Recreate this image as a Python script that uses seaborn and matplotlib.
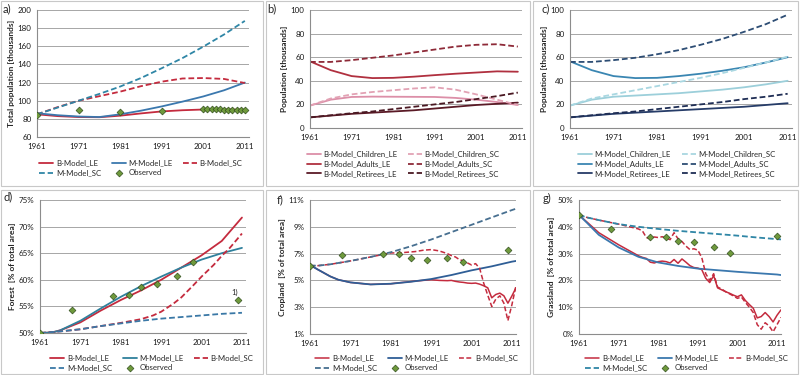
import seaborn as sns
import pandas as pd
from matplotlib import pyplot as plt
from matplotlib.patches import Rectangle
import matplotlib.ticker as mtick

# ---- a) total population [thousands]
years_a = [1961, 1966, 1971, 1976, 1981, 1986, 1991, 1996, 2001, 2006, 2011]
a_b_le = [85, 83, 82, 81.8, 83.5, 86, 88.2, 89.5, 90.3, 90.3, 90]
a_m_le = [86.2, 84, 82.6, 82, 85, 89, 93.7, 99, 104.7, 111.5, 120]
a_b_sc = [85, 93, 100, 105, 110, 116, 121, 124.5, 125, 124, 119.5]
a_m_sc = [85, 92.5, 100, 107.5, 115.6, 125, 135.8, 147, 159.6, 173, 188]
obs_years_a = [1961, 1971, 1981, 1991, 2001, 2002, 2003, 2004, 2005, 2006,
               2007, 2008, 2009, 2010, 2011]
obs_a = [84.5, 89.5, 87.3, 88.8, 90.6, 90.6, 90.5, 90.5, 90.4, 90.3,
         90.1, 90, 89.8, 89.6, 89.3]

# ---- b) B-Model age groups, c) M-Model age groups
years_bc = [1961, 1966, 1971, 1976, 1981, 1986, 1991, 1996, 2001, 2006, 2011]
b_ch_le = [19, 24, 26.3, 26.6, 26.5, 26.4, 26.3, 25.5, 24, 22, 19.5]
b_ch_sc = [19, 25, 28.5, 30.5, 32, 33.5, 34.5, 32.5, 28.5, 24, 19.5]
b_ad_le = [56.5, 49, 44, 42.3, 42.5, 43.5, 44.8, 46, 47, 48, 47.7]
b_ad_sc = [56, 56, 57.5, 59.5, 61.5, 64, 66.5, 69, 70.5, 71, 69]
b_re_le = [9, 10.5, 12, 13, 14, 15, 16.5, 18, 19.5, 20.5, 21.5]
b_re_sc = [9, 10.8, 12.5, 14, 16, 18, 20, 22, 24.5, 27, 30]

c_ch_le = [19, 24, 26.5, 27.5, 28.5, 29.5, 31, 32.5, 34.5, 37, 40]
c_ch_sc = [19, 25, 28.5, 32, 35.5, 39, 42.5, 46.5, 51, 55.5, 60.5]
c_ad_le = [56.5, 49, 44, 42.3, 42.5, 44, 46, 48.5, 51.5, 55.5, 60]
c_ad_sc = [56, 56, 57.5, 59.5, 62.5, 66, 70.5, 75.5, 81.5, 88, 96]
c_re_le = [9, 10.5, 12, 13, 14, 15, 16, 17, 18, 19.5, 21]
c_re_sc = [9, 10.8, 12.5, 14, 16, 18, 20, 22, 24.5, 26.5, 29]

# ---- d) forest [% of total area]
years_d = [1961, 1964, 1966, 1971, 1976, 1981, 1986, 1991, 1996, 2001, 2006, 2011]
d_b_le = [50, 50.1, 50.5, 52.0, 54.2, 56.2, 58.0, 60.0, 62.3, 64.6, 67.3, 71.7]
d_m_le = [50, 50.1, 50.5, 52.3, 54.6, 56.8, 58.8, 60.6, 62.3, 63.8, 65.0, 66.0]
years_d_bsc = [1961, 1966, 1971, 1976, 1981, 1986, 1989, 1991, 1994, 1996,
               1999, 2001, 2004, 2006, 2008, 2011]
d_b_sc = [50, 50.3, 50.7, 51.3, 51.9, 52.6, 53.3, 54.0, 55.5, 56.7,
          59.0, 60.6, 62.8, 64.5, 66.0, 68.7]
years_d_msc = [1961, 1966, 1971, 1976, 1981, 1986, 1991, 1996, 2001, 2006, 2011]
d_m_sc = [50, 50.3, 50.7, 51.3, 51.8, 52.3, 52.7, 53.0, 53.3, 53.6, 53.8]
obs_years_d = [1961, 1969, 1979, 1983, 1986, 1990, 1995, 1999, 2010]
obs_d = [50, 54.3, 56.9, 57.2, 58.7, 59.3, 60.8, 63.4, 56.2]

# ---- f) cropland [% of total area]
years_f_m = [1961, 1963, 1966, 1968, 1971, 1976, 1981, 1986, 1991, 1996, 2001,
             2006, 2011, 2012]
f_m_le = [6.15, 5.8, 5.3, 5.05, 4.85, 4.7, 4.75, 4.9, 5.1, 5.4, 5.75, 6.05, 6.4, 6.45]
f_m_sc = [6.1, 6.1, 6.2, 6.3, 6.45, 6.75, 7.1, 7.55, 8.05, 8.6, 9.15, 9.7, 10.25, 10.35]
years_f_b = [1961, 1963, 1966, 1968, 1971, 1976, 1981, 1983, 1985, 1987, 1989,
             1991, 1993, 1995, 1996, 1997, 1998, 1999, 2000, 2001, 2002, 2003,
             2004, 2005, 2006, 2007, 2008, 2009, 2010, 2011, 2012]
f_b_le = [6.15, 5.8, 5.3, 5.05, 4.85, 4.7, 4.75, 4.82, 4.88, 4.95, 5.0,
          5.05, 5.0, 4.98, 5.0, 4.93, 4.88, 4.85, 4.8, 4.78, 4.8, 4.72,
          4.6, 4.45, 3.7, 3.95, 4.05, 3.85, 3.3, 3.85, 4.45]
f_b_sc = [6.1, 6.1, 6.2, 6.3, 6.45, 6.75, 7.05, 7.05, 7.1, 7.15, 7.25,
          7.3, 7.2, 7.0, 6.85, 6.75, 6.55, 6.45, 6.3, 6.15, 6.25, 5.9,
          4.8, 3.9, 3.05, 3.6, 3.85, 3.3, 2.0, 3.2, 4.6]
obs_years_f = [1961, 1969, 1979, 1983, 1986, 1990, 1995, 1999, 2010]
obs_f = [6.1, 6.9, 6.95, 6.95, 6.7, 6.5, 6.7, 6.4, 7.3]

# ---- g) grassland [% of total area]
years_g_m = [1961, 1963, 1966, 1971, 1976, 1981, 1986, 1991, 1996, 2001, 2006, 2011, 2012]
g_m_le = [44.4, 41.5, 37.0, 32.3, 28.8, 26.7, 25.4, 24.4, 23.8, 23.2, 22.7, 22.2, 22.0]
g_m_sc = [44.4, 43.5, 42.5, 41.0, 40.0, 39.2, 38.5, 37.9, 37.3, 36.7, 36.0, 35.4, 35.3]
years_g_b = [1961, 1963, 1966, 1971] + list(range(1976, 2013))
g_b_le = [44.4, 41.8, 37.8, 33.3, 29.2, 28.6, 28.2, 26.8, 26.5, 27.0, 27.2, 27.0,
          26.5, 27.8, 26.4, 28.0, 26.8, 25.5, 24.8, 24.6, 24.0, 20.8, 19.2, 21.8,
          17.2, 16.5, 15.8, 15.2, 14.5, 13.9, 14.6, 12.5, 11.0, 9.6, 6.0, 6.5,
          8.0, 6.5, 4.5, 7.0, 9.0]
g_b_sc = [44.4, 43.5, 42.5, 41.0, 39.2, 38.5, 36.0, 35.5, 36.2, 36.0, 36.3, 35.8,
          35.2, 37.8, 35.5, 34.5, 32.8, 31.5, 31.8, 31.3, 28.5, 22.5, 20.0, 22.5,
          17.5, 16.8, 15.8, 15.0, 14.2, 13.3, 13.8, 11.8, 10.0, 8.0, 3.5, 1.8,
          4.2, 3.0, 0.8, 3.5, 6.2]
obs_years_g = [1961, 1969, 1979, 1983, 1986, 1990, 1995, 1999, 2011]
obs_g = [44.4, 39.0, 36.3, 36.1, 34.7, 34.3, 32.6, 30.3, 36.6]

RED = "#C42B3E"
BLUE = "#3B78AE"
TEAL = "#2F86A6"
GREEN = "#6F9A3C"
DASH = (0, (3.2, 1.6))
GRID = "#A6A6A6"
AXIS = "#8C8C8C"


def line(ax, x, y, color, label, dashed=False, lw=1.3):
    sns.lineplot(x=x, y=y, color=color, label=label, ax=ax, lw=lw,
                 linestyle=DASH if dashed else "-")


def observed(ax, x, y):
    sns.scatterplot(x=x, y=y, marker="D", s=12, color=GREEN, edgecolor="#34501F",
                    linewidth=0.5, label="Observed", ax=ax, zorder=5)


def style_axes(ax, ylim, yticks, ylabel, pct=False):
    ax.set_xlim(1961, 2012)
    ax.set_xticks(range(1961, 2012, 10))
    ax.set_xticks(range(1966, 2012, 10), minor=True)
    ax.set_ylim(ylim)
    ax.set_yticks(yticks)
    if pct:
        ax.yaxis.set_major_formatter(mtick.PercentFormatter(decimals=0))
    ax.grid(axis="y", color=GRID, lw=0.7)
    ax.grid(axis="x", visible=False)
    ax.set_axisbelow(True)
    for s in ["top", "right"]:
        ax.spines[s].set_visible(False)
    for s in ["left", "bottom"]:
        ax.spines[s].set_color(AXIS)
        ax.spines[s].set_linewidth(0.8)
    ax.tick_params(which="both", direction="out", length=2.5, width=0.6,
                   color=AXIS, labelsize=5.8, pad=1.5, labelcolor="#1A1A1A")
    ax.set_xlabel("")
    ax.set_ylabel(ylabel, fontsize=6, fontweight="bold", labelpad=2)


def legend(ax, order, ncol, cx, top):
    handles, labels = ax.get_legend_handles_labels()
    lookup = dict(zip(labels, handles))
    ax.legend([lookup[k] for k in order], order, ncol=ncol, loc="upper center",
              bbox_to_anchor=(cx, top), bbox_transform=ax.figure.transFigure,
              frameon=False, fontsize=5.6, handlelength=1.8, handletextpad=0.3,
              columnspacing=1.4, labelspacing=0.35, borderpad=0.1)


def main():
    sns.set_style("white")
    plt.rcParams["font.family"] = ["Lato", "DejaVu Sans"]
    fig = plt.figure(figsize=(8, 3.75), dpi=100)

    # panel frames
    for x0, y0, x1, y1 in [(1, 1, 263, 186), (266, 1, 530, 186), (533, 1, 798, 186),
                           (1, 190, 263, 374), (266, 190, 530, 374), (533, 190, 798, 374)]:
        fig.add_artist(Rectangle((x0 / 800, 1 - y1 / 375), (x1 - x0) / 800, (y1 - y0) / 375,
                                 transform=fig.transFigure, fill=False,
                                 ec="#C8C8C8", lw=0.8))

    five = ["B-Model_LE", "M-Model_SC", "M-Model_LE", "Observed", "B-Model_SC"]

    # a)
    ax = fig.add_axes([37 / 800, 1 - 137 / 375, 212 / 800, 127 / 375])
    line(ax, years_a, a_b_le, RED, "B-Model_LE")
    line(ax, years_a, a_m_le, BLUE, "M-Model_LE")
    line(ax, years_a, a_b_sc, RED, "B-Model_SC", dashed=True)
    line(ax, years_a, a_m_sc, TEAL, "M-Model_SC", dashed=True)
    observed(ax, obs_years_a, obs_a)
    style_axes(ax, (60, 200), range(60, 201, 20), "Total population [thousands]")
    legend(ax, five, 3, 141 / 800, 1 - 155 / 375)

    # b)
    ax = fig.add_axes([310 / 800, 1 - 128 / 375, 212 / 800, 118 / 375])
    line(ax, years_bc, b_ch_le, "#DC8FA8", "B-Model_Children_LE")
    line(ax, years_bc, b_ad_le, "#B0303F", "B-Model_Adults_LE")
    line(ax, years_bc, b_re_le, "#5A1A26", "B-Model_Retirees_LE")
    line(ax, years_bc, b_ch_sc, "#E2A2B4", "B-Model_Children_SC", dashed=True)
    line(ax, years_bc, b_ad_sc, "#8E2A38", "B-Model_Adults_SC", dashed=True)
    line(ax, years_bc, b_re_sc, "#4A1822", "B-Model_Retirees_SC", dashed=True)
    style_axes(ax, (0, 100), range(0, 101, 20), "Population [thousands]")
    legend(ax, ["B-Model_Children_LE", "B-Model_Adults_LE", "B-Model_Retirees_LE",
                "B-Model_Children_SC", "B-Model_Adults_SC", "B-Model_Retirees_SC"],
           2, 403 / 800, 1 - 146 / 375)

    # c)
    ax = fig.add_axes([570 / 800, 1 - 128 / 375, 222 / 800, 118 / 375])
    line(ax, years_bc, c_ch_le, "#9CCFDA", "M-Model_Children_LE")
    line(ax, years_bc, c_ad_le, "#3A86B2", "M-Model_Adults_LE")
    line(ax, years_bc, c_re_le, "#263C68", "M-Model_Retirees_LE")
    line(ax, years_bc, c_ch_sc, "#A9D7E1", "M-Model_Children_SC", dashed=True)
    line(ax, years_bc, c_ad_sc, "#2D4D74", "M-Model_Adults_SC", dashed=True)
    line(ax, years_bc, c_re_sc, "#1F2E55", "M-Model_Retirees_SC", dashed=True)
    style_axes(ax, (0, 100), range(0, 101, 20), "Population [thousands]")
    legend(ax, ["M-Model_Children_LE", "M-Model_Adults_LE", "M-Model_Retirees_LE",
                "M-Model_Children_SC", "M-Model_Adults_SC", "M-Model_Retirees_SC"],
           2, 677 / 800, 1 - 146 / 375)

    # d)
    ax = fig.add_axes([40 / 800, 1 - 333 / 375, 206 / 800, 133 / 375])
    line(ax, years_d, d_b_le, RED, "B-Model_LE")
    line(ax, years_d, d_m_le, "#2F809C", "M-Model_LE")
    line(ax, years_d_bsc, d_b_sc, RED, "B-Model_SC", dashed=True)
    line(ax, years_d_msc, d_m_sc, "#3A78A6", "M-Model_SC", dashed=True)
    observed(ax, obs_years_d, obs_d)
    ax.text(2009.2, 57.0, "1)", fontsize=5.5, ha="center", va="bottom")
    style_axes(ax, (50, 75), range(50, 76, 5), "Forest  [% of total area]", pct=True)
    legend(ax, five, 3, 152 / 800, 1 - 350 / 375)

    # f)
    ax = fig.add_axes([310 / 800, 1 - 334 / 375, 206 / 800, 134 / 375])
    line(ax, years_f_b, f_b_le, RED, "B-Model_LE", lw=1.1)
    line(ax, years_f_m, f_m_le, "#2F5E96", "M-Model_LE")
    line(ax, years_f_b, f_b_sc, RED, "B-Model_SC", dashed=True, lw=1.1)
    line(ax, years_f_m, f_m_sc, "#476F90", "M-Model_SC", dashed=True)
    observed(ax, obs_years_f, obs_f)
    style_axes(ax, (1, 11), range(1, 12, 2), "Cropland  [% of total area]", pct=True)
    legend(ax, five, 3, 417 / 800, 1 - 350 / 375)

    # g)
    ax = fig.add_axes([579 / 800, 1 - 334 / 375, 202 / 800, 134 / 375])
    line(ax, years_g_b, g_b_le, RED, "B-Model_LE", lw=1.1)
    line(ax, years_g_m, g_m_le, BLUE, "M-Model_LE")
    line(ax, years_g_b, g_b_sc, RED, "B-Model_SC", dashed=True, lw=1.1)
    line(ax, years_g_m, g_m_sc, TEAL, "M-Model_SC", dashed=True)
    observed(ax, obs_years_g, obs_g)
    style_axes(ax, (0, 50), range(0, 51, 10), "Grassland  [% of total area]", pct=True)
    legend(ax, five, 3, 687 / 800, 1 - 350 / 375)

    # panel letters
    for x, y, s in [(3, 3, "a)"), (267, 3, "b)"), (541, 3, "c)"),
                    (3, 191, "d)"), (277, 194, "f)"), (543, 193, "g)")]:
        fig.text(x / 800, 1 - y / 375, s, fontsize=8, ha="left", va="top")

    fig.savefig("out.png", dpi=100)


if __name__ == "__main__":
    main()
